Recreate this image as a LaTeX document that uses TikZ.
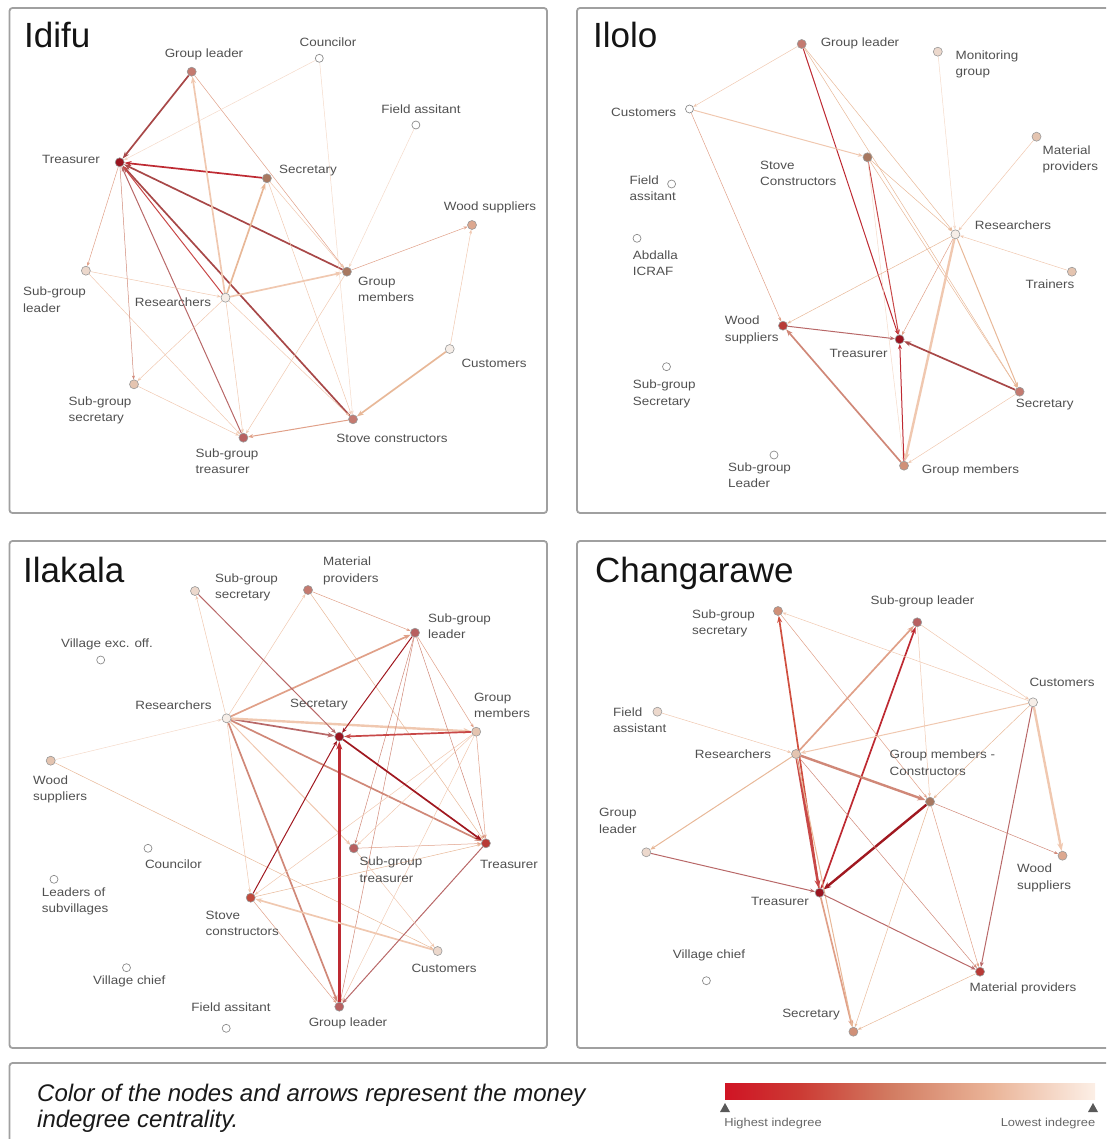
\documentclass[tikz,border=0pt]{standalone}
\usepackage{fontspec}
\setmainfont{Liberation Sans}
\newfontfamily\lblfont[FakeStretch=1.12]{Liberation Sans}
\usetikzlibrary{arrows.meta}
\pgfdeclarelayer{edges}
\pgfsetlayers{edges,main}

% node fills (money indegree, dark = high)
\definecolor{n1}{HTML}{9A1420}
\definecolor{n2}{HTML}{B83A36}
\definecolor{n3}{HTML}{C04A3C}
\definecolor{n4}{HTML}{B86060}
\definecolor{n5}{HTML}{C47A70}
\definecolor{n6}{HTML}{A87860}
\definecolor{n7}{HTML}{D09078}
\definecolor{n8}{HTML}{DCA890}
\definecolor{n9}{HTML}{E4C4B0}
\definecolor{n10}{HTML}{ECD8CC}
\definecolor{n11}{HTML}{F6EEE8}
% edge colours
\definecolor{e1}{HTML}{A01820}
\definecolor{e2}{HTML}{BE2A32}
\definecolor{e3}{HTML}{C84848}
\definecolor{eb}{HTML}{A84848}
\definecolor{e4}{HTML}{B86868}
\definecolor{e5}{HTML}{D08878}
\definecolor{e6}{HTML}{E0A088}
\definecolor{e7}{HTML}{E8B898}
\definecolor{e8}{HTML}{F0C8B0}
\definecolor{e9}{HTML}{F4DACA}
\definecolor{e10}{HTML}{D05040}
\definecolor{labc}{HTML}{505050}
\definecolor{framec}{HTML}{A0A0A0}
% legend ramp
\definecolor{g0}{HTML}{D01424}
\definecolor{g1}{HTML}{CC3A34}
\definecolor{g2}{HTML}{D27C62}
\definecolor{g3}{HTML}{EAB498}
\definecolor{g4}{HTML}{FCEFE6}
% the middle half (25bp..75bp) of a named shading is what fills the path
\pgfdeclarehorizontalshading{indeg}{100bp}{color(0bp)=(g0); color(25bp)=(g0); color(35bp)=(g1); color(47.5bp)=(g2); color(61bp)=(g3); color(75bp)=(g4); color(100bp)=(g4)}

\tikzset{
  frame/.style={draw=framec, line width=1.8pt, rounded corners=3pt},
  title/.style={anchor=base west, inner sep=0pt, text=black!92, font=\fontsize{35}{40}\selectfont},
  vx/.style={circle, inner sep=0pt, minimum size=9pt, draw=black!40, line width=0.6pt, fill=#1},
  iso/.style={circle, inner sep=0pt, minimum size=8pt, draw=black!45, line width=0.7pt, fill=white},
  lb/.style={font={\lblfont\fontsize{12}{16.5}\selectfont}, text=labc, inner sep=0pt, align=left},
  legtext/.style={anchor=base west, inner sep=0pt, text=black!90, font=\itshape\fontsize{24}{28}\selectfont},
  scale label/.style={text=black!60, inner sep=0pt, font={\lblfont\fontsize{11.5}{13}\selectfont}},
  ln0/.style={line width=0.5pt, -{Stealth[length=4pt,width=3pt]}},
  ln1/.style={line width=1pt, -{Stealth[length=5pt,width=4pt]}},
  ln2/.style={line width=1.7pt, -{Stealth[length=7pt,width=5pt]}},
  ln3/.style={line width=2.4pt, -{Stealth[length=8pt,width=6pt]}},
}

\begin{document}
\begin{tikzpicture}[x=1pt,y=-1pt]
\useasboundingbox (0,0) rectangle (1106,1139);
\begin{scope}
\clip (0,0) rectangle (1106,1139);

% panel frames
\draw[frame] (9.5,8) rectangle (547,513);
\draw[frame] (577,8) rectangle (1112,513);
\draw[frame] (9.5,541) rectangle (547,1048);
\draw[frame] (577,541) rectangle (1112,1048);
\draw[frame] (9.5,1063) rectangle (1112,1170);

% ================= Idifu =================
\node[title] (Tidifu) at (24,48) {Idifu};
\node[vx=n5] (Agl) at (191.7,71.7) {};
\node[iso] (Aco) at (319.3,58.3) {};
\node[iso] (Afa) at (415.9,125) {};
\node[vx=n1] (Atr) at (119.7,162.3) {};
\node[vx=n6] (Ase) at (266.9,178.3) {};
\node[vx=n8] (Aws) at (472,225) {};
\node[vx=n10] (Asl) at (85.9,270.7) {};
\node[vx=n6] (Agm) at (346.9,271.7) {};
\node[vx=n11] (Are) at (225.5,297.7) {};
\node[vx=n11] (Acu) at (449.7,349) {};
\node[vx=n9] (Ass) at (134,384.3) {};
\node[vx=n5] (Asc) at (353,419.3) {};
\node[vx=n4] (Ast) at (243.4,437.7) {};

\node[lb] (Lagl) at (204,54) {Group leader};
\node[lb] (Laco) at (328,42) {Councilor};
\node[lb] (Lafa) at (421,109) {Field assitant};
\node[lb] (Latr) at (71,159) {Treasurer};
\node[lb] (Lase) at (308,171) {Secretary};
\node[lb] (Laws) at (490,207) {Wood suppliers};
\node[lb,anchor=west] (Lasl) at (23,299.5) {Sub-group\\leader};
\node[lb,anchor=west] (Lagm) at (358,289.5) {Group\\members};
\node[lb] (Lare) at (173,302) {Researchers};
\node[lb] (Lacu) at (494,363) {Customers};
\node[lb,anchor=west] (Lass) at (68.5,410.5) {Sub-group\\secretary};
\node[lb] (Lasc) at (392,438) {Stove constructors};
\node[lb,anchor=west] (Last) at (195.5,461) {Sub-group\\treasurer};

\begin{pgfonlayer}{edges}
\draw[ln2,eb] (Agl) -- (Atr);
\draw[ln2,e2] (Ase) -- (Atr);
\draw[ln2,eb] (Agm) -- (Atr);
\draw[ln2,eb] (Asc) -- (Atr);
\draw[ln1,e3] (Are) -- (Atr);
\draw[ln1,e4] (Ast) -- (Atr);
\draw[ln2,e8] (Are) -- (Agl);
\draw[ln2,e7] (Are) -- (Ase);
\draw[ln2,e8] (Are) -- (Agm);
\draw[ln0,e6] (Agl) -- (Agm);
\draw[ln0,e8] (Ase) -- (Agm);
\draw[ln0,e9] (Aco) -- (Asc);
\draw[ln0,e9] (Aco) -- (Atr);
\draw[ln0,e9] (Afa) -- (Agm);
\draw[ln0,e6] (Agm) -- (Aws);
\draw[ln0,e8] (Acu) -- (Aws);
\draw[ln2,e7] (Acu) -- (Asc);
\draw[ln1,e6] (Asc) -- (Ast);
\draw[ln0,e8] (Agm) -- (Ast);
\draw[ln0,e8] (Are) -- (Ast);
\draw[ln0,e8] (Are) -- (Ass);
\draw[ln0,e8] (Asl) -- (Are);
\draw[ln0,e8] (Asl) -- (Ast);
\draw[ln0,e8] (Ass) -- (Ast);
\draw[ln0,e8] (Are) -- (Asc);
\draw[ln0,e6] (Atr) -- (Asl);
\draw[ln0,e5] (Atr) -- (Ass);
\draw[ln0,e8] (Ase) -- (Asc);
\end{pgfonlayer}

% ================= Ilolo =================
\node[title] (Tilolo) at (593,48) {Ilolo};
\node[vx=n5] (Bgl) at (801.7,44) {};
\node[vx=n10] (Bmg) at (937.8,51.7) {};
\node[iso] (Bcu) at (689.5,109) {};
\node[vx=n9] (Bmp) at (1036.5,136.7) {};
\node[vx=n6] (Bsc) at (867.5,157.3) {};
\node[iso] (Bfa) at (671.6,184) {};
\node[vx=n11] (Bre) at (955.4,234.3) {};
\node[iso] (Bab) at (637,238.3) {};
\node[vx=n9] (Btn) at (1071.9,271.7) {};
\node[vx=n2] (Bws) at (783,325.7) {};
\node[vx=n1] (Btr) at (899.6,339.3) {};
\node[iso] (Bss) at (666.5,366.7) {};
\node[vx=n5] (Bse) at (1019.6,391.7) {};
\node[iso] (Bsl) at (774,455) {};
\node[vx=n7] (Bgm) at (904,465.7) {};

\node[lb] (Lbgl) at (860,43.3) {Group leader};
\node[lb,anchor=west] (Lbmg) at (955.4,64.2) {Monitoring\\group};
\node[lb] (Lbcu) at (643.7,112.7) {Customers};
\node[lb,anchor=west] (Lbmp) at (1042.5,159.3) {Material\\providers};
\node[lb,anchor=west] (Lbsc) at (760,173.3) {Stove\\Constructors};
\node[lb,anchor=west] (Lbfa) at (629.4,188) {Field\\assitant};
\node[lb] (Lbre) at (1013,225) {Researchers};
\node[lb,anchor=west] (Lbab) at (632.7,263) {Abdalla\\ICRAF};
\node[lb] (Lbtn) at (1050,284.3) {Trainers};
\node[lb,anchor=west] (Lbws) at (724.6,329.7) {Wood\\suppliers};
\node[lb] (Lbtr) at (858.6,353.3) {Treasurer};
\node[lb,anchor=west] (Lbss) at (632.7,393.7) {Sub-group\\Secretary};
\node[lb] (Lbse) at (1044.7,405) {Secretary};
\node[lb,anchor=west] (Lbsl) at (728,475) {Sub-group\\Leader};
\node[lb] (Lbgm) at (970.5,470) {Group members};

\begin{pgfonlayer}{edges}
\draw[ln1,e2] (Bgl) -- (Btr);
\draw[ln0,e8] (Bgl) -- (Bcu);
\draw[ln0,e7] (Bgl) -- (Bre);
\draw[ln0,e7] (Bgl) -- (Bse);
\draw[ln1,e8] (Bcu) -- (Bsc);
\draw[ln0,e6] (Bcu) -- (Bws);
\draw[ln1,e3] (Bsc) -- (Btr);
\draw[ln0,e7] (Bsc) -- (Bre);
\draw[ln0,e7] (Bsc) -- (Bse);
\draw[ln0,e9] (Bsc) -- (Bgm);
\draw[ln0,e9] (Bmg) -- (Bre);
\draw[ln0,e8] (Bmp) -- (Bre);
\draw[ln0,e8] (Btn) -- (Bre);
\draw[ln0,e7] (Bre) -- (Bws);
\draw[ln0,e6] (Bre) -- (Btr);
\draw[ln3,e8] (Bre) -- (Bgm);
\draw[ln1,e7] (Bre) -- (Bse);
\draw[ln1,e4] (Bws) -- (Btr);
\draw[ln2,e5] (Bgm) -- (Bws);
\draw[ln1,e2] (Bgm) -- (Btr);
\draw[ln2,eb] (Bse) -- (Btr);
\draw[ln0,e8] (Bse) -- (Bgm);
\end{pgfonlayer}

% ================= Ilakala =================
\node[title] (Tilakala) at (23,582) {Ilakala};
\node[vx=n10] (Css) at (195,591) {};
\node[vx=n5] (Cmp) at (308,590) {};
\node[vx=n4] (Csl) at (415,632.7) {};
\node[iso] (Cve) at (100.7,660) {};
\node[vx=n11] (Cre) at (226.6,718.3) {};
\node[vx=n1] (Cse) at (339.3,736.7) {};
\node[vx=n9] (Cgm) at (476.2,731.7) {};
\node[vx=n9] (Cws) at (50.7,760.7) {};
\node[vx=n4] (Cst) at (353.8,848.3) {};
\node[vx=n2] (Ctr) at (485.9,843.3) {};
\node[iso] (Cco) at (148,848.3) {};
\node[iso] (Cls) at (54,879.3) {};
\node[vx=n3] (Csc) at (250.7,897.7) {};
\node[vx=n10] (Ccu) at (437.6,951) {};
\node[iso] (Cvc) at (126.5,967.7) {};
\node[iso] (Cfa) at (226.2,1028.3) {};
\node[vx=n4] (Cgl) at (339.3,1006.7) {};

\node[lb,anchor=west] (Lcss) at (215,587.5) {Sub-group\\secretary};
\node[lb,anchor=west] (Lcmp) at (323,571) {Material\\providers};
\node[lb,anchor=west] (Lcsl) at (428,626) {Sub-group\\leader};
\node[lb] (Lcve) at (107,644) {Village exc. off.};
\node[lb] (Lcre) at (173.4,705) {Researchers};
\node[lb] (Lcse) at (319,705) {Secretary};
\node[lb,anchor=west] (Lcgm) at (473.8,705.3) {Group\\members};
\node[lb,anchor=west] (Lcws) at (33,789.5) {Wood\\suppliers};
\node[lb,anchor=west] (Lcst) at (359.3,869.5) {Sub-group\\treasurer};
\node[lb] (Lctr) at (509,864) {Treasurer};
\node[lb] (Lcco) at (173.4,864) {Councilor};
\node[lb,anchor=west] (Lcls) at (41.7,901.3) {Leaders of\\subvillages};
\node[lb,anchor=west] (Lcsc) at (205.5,923.6) {Stove\\constructors};
\node[lb] (Lccu) at (444,968.3) {Customers};
\node[lb] (Lcvc) at (129.3,981.7) {Village chief};
\node[lb] (Lcfa) at (231,1006.7) {Field assitant};
\node[lb] (Lcgl) at (348,1023.3) {Group leader};

\begin{pgfonlayer}{edges}
\draw[ln2,e6] (Cre) -- (Csl);
\draw[ln2,e4] (Cre) -- (Cse);
\draw[ln3,e8] (Cre) -- (Cgm);
\draw[ln2,e5] (Cre) -- (Ctr);
\draw[ln1,e8] (Cre) -- (Cst);
\draw[ln2,e5] (Cre) -- (Cgl);
\draw[ln0,e8] (Cre) -- (Csc);
\draw[ln0,e8] (Cre) -- (Cmp);
\draw[ln0,e8] (Cre) -- (Css);
\draw[ln0,e9] (Cws) -- (Cre);
\draw[ln0,e7] (Cws) -- (Ccu);
\draw[ln1,e4] (Css) -- (Cse);
\draw[ln0,e6] (Cmp) -- (Csl);
\draw[ln0,e7] (Cmp) -- (Ctr);
\draw[ln1,e1] (Csl) -- (Cse);
\draw[ln0,e5] (Csl) -- (Cst);
\draw[ln0,e5] (Csl) -- (Ctr);
\draw[ln0,e6] (Csl) -- (Cgm);
\draw[ln0,e5] (Csl) -- (Cgl);
\draw[ln2,e3] (Cgm) -- (Cse);
\draw[ln0,e6] (Cgm) -- (Ctr);
\draw[ln0,e8] (Cgm) -- (Csc);
\draw[ln0,e8] (Cgm) -- (Cst);
\draw[ln0,e8] (Cgm) -- (Cgl);
\draw[ln2,e1] (Cse) -- (Ctr);
\draw[ln3,e2] (Cgl) -- (Cse);
\draw[ln1,e1] (Csc) -- (Cse);
\draw[ln2,e8] (Ccu) -- (Csc);
\draw[ln1,e4] (Ctr) -- (Cgl);
\draw[ln0,e6] (Cst) -- (Ctr);
\draw[ln0,e7] (Csc) -- (Ctr);
\draw[ln0,e6] (Csc) -- (Cgl);
\draw[ln0,e8] (Cst) -- (Ccu);
\end{pgfonlayer}

% ================= Changarawe =================
\node[title] (Tchang) at (595,582) {Changarawe};
\node[vx=n7] (Dss) at (778,611) {};
\node[vx=n4] (Dsl) at (917.2,622.3) {};
\node[vx=n11] (Dcu) at (1033,702.3) {};
\node[vx=n10] (Dfa) at (657.4,711.7) {};
\node[vx=n9] (Dre) at (796,754) {};
\node[vx=n6] (Dgm) at (930,801.7) {};
\node[vx=n10] (Dgl) at (646.3,852.3) {};
\node[vx=n8] (Dws) at (1062.5,855.7) {};
\node[vx=n1] (Dtr) at (819.6,892.7) {};
\node[iso] (Dvc) at (706.4,980.7) {};
\node[vx=n2] (Dmp) at (980,971.7) {};
\node[vx=n7] (Dse) at (853.4,1031.7) {};

\node[lb,anchor=west] (Ldss) at (691.9,623.3) {Sub-group\\secretary};
\node[lb] (Ldsl) at (922.5,601.7) {Sub-group leader};
\node[lb] (Ldcu) at (1062,682.3) {Customers};
\node[lb,anchor=west] (Ldfa) at (613,720.3) {Field\\assistant};
\node[lb] (Ldre) at (733,754.3) {Researchers};
\node[lb,anchor=west] (Ldgm) at (889.5,762.5) {Group members -\\Constructors};
\node[lb,anchor=west] (Ldgl) at (599,821) {Group\\leader};
\node[lb,anchor=west] (Ldws) at (1017,878) {Wood\\suppliers};
\node[lb] (Ldtr) at (780,901.7) {Treasurer};
\node[lb] (Ldvc) at (709,955) {Village chief};
\node[lb] (Ldmp) at (1023,988.3) {Material providers};
\node[lb] (Ldse) at (811,1014.3) {Secretary};

\begin{pgfonlayer}{edges}
\draw[ln2,e6] (Dre) -- (Dsl);
\draw[ln2,e2] (Dtr) -- (Dsl);
\draw[ln2,e10] (Dtr) -- (Dss);
\draw[ln3,e3] (Dre) -- (Dtr);
\draw[ln3,e1] (Dgm) -- (Dtr);
\draw[ln3,e5] (Dre) -- (Dgm);
\draw[ln1,e8] (Dcu) -- (Dre);
\draw[ln1,e7] (Dre) -- (Dgl);
\draw[ln0,e8] (Dfa) -- (Dre);
\draw[ln0,e5] (Dre) -- (Dmp);
\draw[ln2,e6] (Dtr) -- (Dse);
\draw[ln1,e7] (Dre) -- (Dse);
\draw[ln1,e4] (Dgl) -- (Dtr);
\draw[ln1,e4] (Dtr) -- (Dmp);
\draw[ln3,e8] (Dcu) -- (Dws);
\draw[ln1,e4] (Dcu) -- (Dmp);
\draw[ln0,e7] (Dcu) -- (Dgm);
\draw[ln0,e8] (Dcu) -- (Dss);
\draw[ln0,e8] (Dsl) -- (Dcu);
\draw[ln0,e8] (Dsl) -- (Dgm);
\draw[ln0,e6] (Dss) -- (Dgm);
\draw[ln0,e5] (Dgm) -- (Dws);
\draw[ln0,e6] (Dgm) -- (Dmp);
\draw[ln0,e7] (Dgm) -- (Dse);
\draw[ln0,e7] (Dmp) -- (Dse);
\end{pgfonlayer}

% ================= legend =================
\node[legtext] (Leg1) at (37,1101.5) {Color of the nodes and arrows represent the money};
\node[legtext] (Leg2) at (37,1127.5) {indegree centrality.};
\shade[shading=indeg] (725,1083) rectangle (1095,1099);
\fill[black!65] (720,1112) -- (730,1112) -- (725,1103) -- cycle;
\fill[black!65] (1088,1112) -- (1098,1112) -- (1093,1103) -- cycle;
\node[scale label] (Lhi) at (773,1124) {Highest indegree};
\node[scale label] (Llo) at (1048,1124) {Lowest indegree};
\end{scope}
\end{tikzpicture}
\end{document}
